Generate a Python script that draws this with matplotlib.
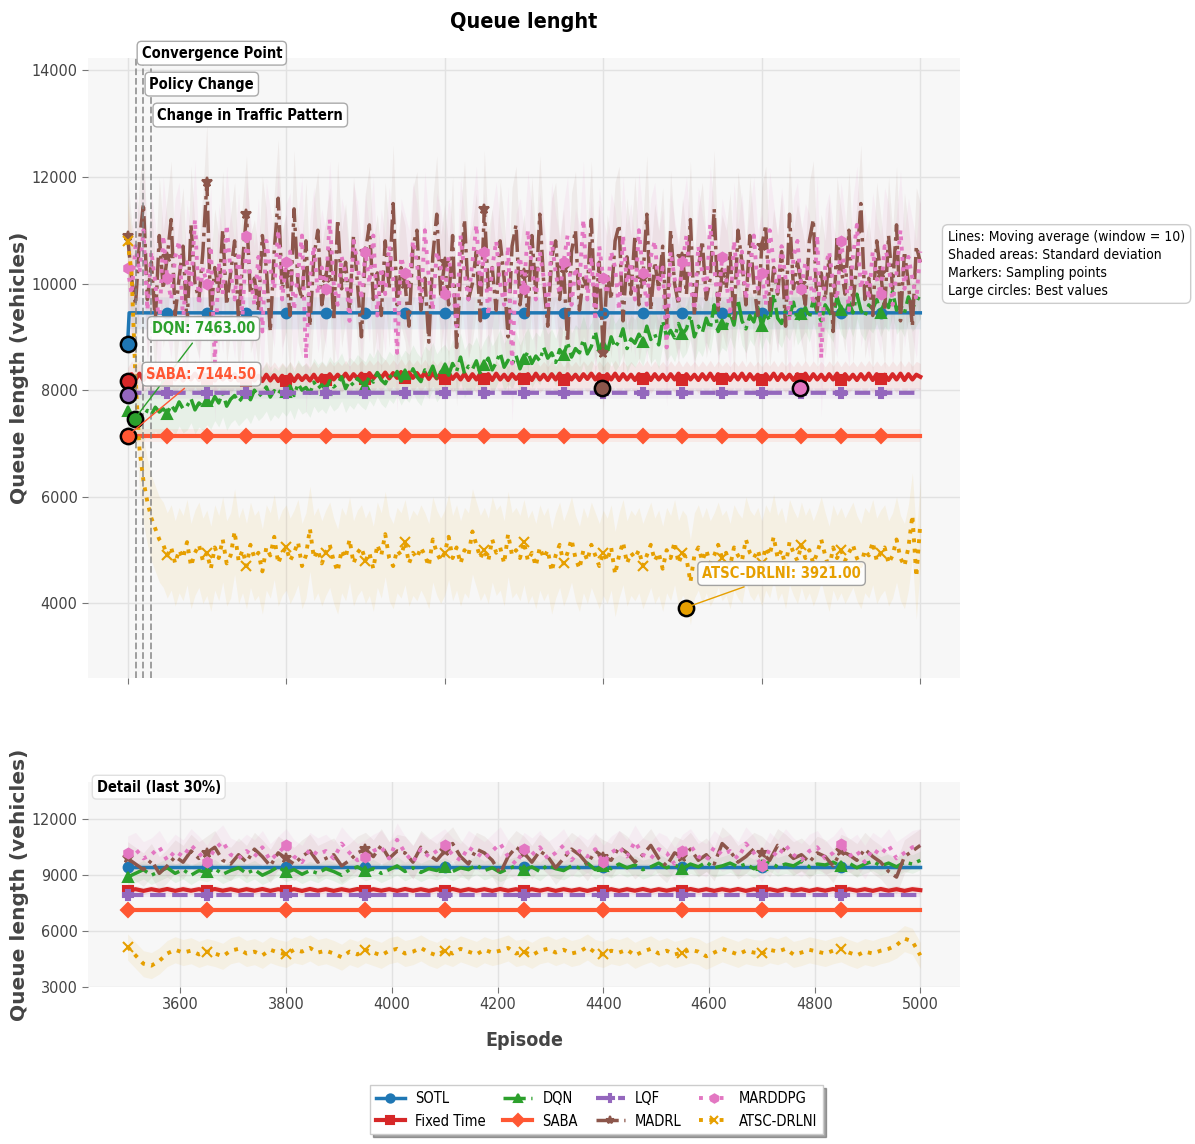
import numpy as np
import matplotlib
matplotlib.use("Agg")
import matplotlib.pyplot as plt

plt.rcParams['font.family'] = ['DejaVu Sans']
plt.rcParams['font.stretch'] = 'condensed'

######## data ########
names = ["SOTL", "Fixed Time", "DQN", "SABA", "LQF", "MADRL", "MARDDPG", "ATSC-DRLNI"]
colors = ["#1f77b4", "#d62728", "#2ca02c", "#ff5733", "#9467bd", "#8c564b", "#e377c2", "#e69f00"]
markers = ["o", "s", "^", "D", "P", "*", "h", "x"]
styles = ["-", "-", "-.", "-", "--", "-.", ":", ":"]

# episodes for the noisy series (every 25 episodes)
ep = np.arange(0, 5001, 25)
# episodes for the flat series
ep_flat = [0, 10] + list(range(250, 5001, 250))

sotl = [8870, 9450, 9450, 9450, 9450, 9450, 9450, 9450, 9450, 9450, 9450,
        9450, 9450, 9450, 9450, 9450, 9450, 9450, 9450, 9450, 9450, 9450]
saba = [7144.5, 7144.5, 7144.5, 7144.5, 7144.5, 7144.5, 7144.5, 7144.5, 7144.5, 7144.5, 7144.5,
        7144.5, 7144.5, 7144.5, 7144.5, 7144.5, 7144.5, 7144.5, 7144.5, 7144.5, 7144.5, 7144.5]
lqf = [7900, 7950, 7950, 7950, 7950, 7950, 7950, 7950, 7950, 7950, 7950,
       7950, 7950, 7950, 7950, 7950, 7950, 7950, 7950, 7950, 7950, 7950]

fixed_time = [
    8170, 8300, 8200, 8310, 8190, 8300, 8210, 8320, 8200, 8290,
    8190, 8310, 8200, 8300, 8180, 8290, 8200, 8310, 8190, 8300,
    8210, 8290, 8180, 8300, 8200, 8280, 8190, 8300, 8180, 8290,
    8170, 8280, 8180, 8270, 8170, 8290, 8180, 8280, 8170, 8270,
    8180, 8290, 8170, 8280, 8190, 8270, 8180, 8290, 8170, 8280,
    8190, 8300, 8200, 8290, 8210, 8310, 8200, 8300, 8220, 8310,
    8210, 8320, 8220, 8310, 8230, 8330, 8220, 8320, 8230, 8340,
    8220, 8330, 8230, 8320, 8220, 8330, 8210, 8320, 8220, 8310,
    8200, 8320, 8210, 8300, 8200, 8310, 8190, 8300, 8200, 8310,
    8200, 8300, 8190, 8310, 8200, 8290, 8190, 8300, 8210, 8290,
    8200, 8300, 8190, 8310, 8200, 8290, 8190, 8300, 8200, 8310,
    8190, 8300, 8200, 8290, 8190, 8300, 8210, 8310, 8200, 8300,
    8190, 8300, 8200, 8310, 8190, 8300, 8200, 8290, 8190, 8300,
    8200, 8310, 8190, 8300, 8200, 8290, 8190, 8300, 8200, 8310,
    8190, 8300, 8200, 8290, 8190, 8300, 8200, 8310, 8190, 8300,
    8200, 8290, 8190, 8300, 8200, 8310, 8190, 8300, 8200, 8290,
    8190, 8300, 8200, 8310, 8190, 8300, 8200, 8290, 8190, 8300,
    8200, 8310, 8190, 8300, 8200, 8290, 8190, 8300, 8200, 8310,
    8190, 8300, 8200, 8290, 8190, 8300, 8200, 8310, 8190, 8300,
    8200, 8290, 8190, 8300, 8200, 8310, 8190, 8300, 8200, 8290,
    8250]

dqn = [
    7600, 7470, 7463, 7550, 7500, 7620, 7540, 7680, 7590, 7650,
    7560, 7720, 7610, 7780, 7650, 7700, 7840, 7630, 7760, 7690,
    7800, 7720, 7880, 7760, 7950, 7700, 7830, 7900, 7780, 7860,
    7940, 7820, 8000, 7880, 7950, 8060, 7870, 7990, 7920, 8050,
    7960, 8080, 7900, 8120, 8000, 8050, 7940, 8150, 8030, 8100,
    8010, 8180, 8060, 8120, 8250, 8030, 8170, 8090, 8220, 8140,
    8080, 8260, 8150, 8330, 8190, 8120, 8280, 8200, 8350, 8170,
    8300, 8220, 8400, 8250, 8160, 8380, 8290, 8450, 8230, 8340,
    8410, 8280, 8500, 8350, 8620, 8310, 8450, 8390, 8550, 8300,
    8480, 8600, 8380, 8520, 8700, 8430, 8560, 8480, 8650, 8400,
    8580, 8720, 8500, 8640, 8550, 8800, 8600, 8700, 8520, 8760,
    8650, 8900, 8620, 8780, 8700, 8950, 8680, 8820, 9100, 8740,
    8850, 8700, 9000, 8800, 8920, 9150, 8780, 8960, 8880, 9050,
    8900, 9200, 8950, 9050, 8850, 9300, 9000, 9120, 8980, 9250,
    9050, 9150, 9400, 9000, 9200, 9080, 9350, 9150, 9600, 9100,
    9250, 9180, 9450, 9220, 9700, 9300, 9150, 9400, 9280, 9550,
    9200, 9450, 9300, 9800, 9350, 9250, 9500, 9380, 9650, 9300,
    9420, 9550, 9350, 9700, 9450, 9300, 9600, 9480, 9350, 9750,
    9500, 9400, 9650, 9450, 9800, 9500, 9380, 9600, 9520, 9700,
    9450, 9650, 9550, 9850, 9500, 9600, 9450, 9750, 9550, 9650,
    9800]

madrl = [
    10900, 10100, 9600, 10800, 11500, 9700, 10400, 9300, 10900, 9900,
    10500, 11200, 9400, 10100, 10700, 9200, 11100, 10000, 9700, 10600,
    11900, 9400, 10300, 9800, 11000, 9600, 10200, 10800, 9300, 10400,
    11300, 9800, 10100, 9500, 10900, 10300, 9100, 10600, 11600, 9900,
    10200, 9400, 11400, 10000, 9700, 10800, 9200, 10500, 11000, 9600,
    10100, 10700, 9300, 11200, 9900, 10400, 9500, 10900, 10000, 9000,
    10600, 11100, 9700, 10200, 9400, 10800, 9900, 11500, 9600, 10300,
    10000, 9200, 10700, 11000, 9500, 10100, 8900, 10500, 11300, 9800,
    10400, 9600, 10900, 8800, 10200, 11200, 9700, 10000, 10600, 9300,
    11400, 9900, 10300, 9500, 10800, 10100, 9000, 10700, 11100, 9600,
    10200, 9400, 10900, 9800, 11300, 10000, 9200, 10500, 10800, 9700,
    10300, 8900, 10600, 11000, 9500, 10100, 9900, 11200, 9400, 10400,
    8700, 10200, 9700, 10800, 11100, 9300, 10500, 9800, 10900, 9600,
    10100, 11300, 9500, 10400, 9900, 10700, 9200, 11000, 10000, 9600,
    10500, 9800, 11200, 9400, 10300, 10800, 9700, 10100, 11400, 9500,
    10200, 9900, 10600, 9300, 11000, 10400, 9600, 10900, 10000, 9400,
    10700, 11100, 9500, 10300, 9800, 10600, 9200, 11300, 9900, 10400,
    10000, 9600, 10800, 11200, 9500, 10200, 9700, 10500, 9100, 10900,
    10300, 9800, 11000, 9600, 10400, 11500, 9700, 10100, 9400, 10800,
    10200, 9500, 10900, 9900, 11100, 9300, 10600, 10000, 9200, 10700,
    10400]

marddpg = [
    10300, 9800, 10700, 10200, 11000, 9500, 10600, 10000, 9200, 10900,
    10100, 9700, 10500, 10800, 9300, 10400, 9900, 11200, 9600, 10300,
    10000, 10700, 8500, 10400, 9800, 11100, 10200, 9700, 10600, 9400,
    10900, 10100, 9600, 10500, 9100, 10800, 10300, 9900, 11000, 9700,
    10400, 10600, 9500, 10200, 10900, 8600, 10100, 10700, 9800, 10300,
    9900, 11200, 10000, 9600, 10500, 10200, 9300, 10800, 10400, 9700,
    10600, 10000, 10900, 9400, 10300, 9800, 10700, 10100, 8700, 10500,
    10200, 9900, 10800, 10400, 9600, 11000, 10100, 9500, 10600, 10300,
    9800, 10500, 10000, 9200, 10900, 10200, 9700, 10400, 11100, 9900,
    10600, 9400, 10300, 10800, 10000, 9600, 10700, 8500, 10200, 10500,
    9900, 11000, 10300, 9700, 10600, 10100, 9500, 10800, 10200, 9800,
    10400, 10900, 9600, 10300, 10000, 11200, 9700, 10500, 9300, 10700,
    10100, 9800, 10600, 10300, 9500, 10900, 10000, 10400, 9700, 11000,
    10200, 9600, 10500, 10800, 9900, 10300, 8800, 10600, 10100, 9700,
    10400, 10900, 10000, 9500, 10700, 10200, 9800, 11100, 10300, 9600,
    10500, 10100, 9400, 10800, 10000, 10600, 9700, 10300, 10900, 9900,
    10200, 9600, 11000, 10400, 9800, 10700, 10100, 9300, 10500, 10800,
    9900, 10400, 10200, 9600, 10900, 8600, 10300, 10600, 10000, 9700,
    10800, 10200, 9500, 10500, 11100, 9900, 10300, 9700, 10600, 10100,
    9800, 10700, 10400, 9600, 10200, 11000, 9900, 10500, 10100, 9700,
    10600]

atsc = [
    10800, 10200, 8200, 6900, 6300, 5900, 5600, 5400, 5200, 5100,
    4900, 5050, 4750, 5000, 4850, 5150, 4700, 4950, 5100, 4800,
    4950, 4650, 5050, 4850, 5200, 4750, 4900, 5350, 4800, 5000,
    4700, 5100, 4850, 4950, 4600, 5050, 4900, 5250, 4750, 4950,
    5050, 4800, 4950, 5150, 4700, 4900, 5400, 4850, 5000, 4750,
    4950, 5100, 4800, 4600, 5000, 4850, 5200, 4750, 4950, 5050,
    4800, 4950, 4650, 5100, 4900, 5300, 4850, 4700, 5000, 4900,
    5150, 4750, 4950, 4850, 5050, 4900, 4700, 5200, 4950, 4800,
    4950, 5250, 4850, 5050, 4750, 5000, 4900, 5350, 5100, 4850,
    5000, 4800, 5200, 4950, 5050, 4750, 5300, 4900, 5000, 4850,
    5150, 4800, 4950, 4700, 5050, 4850, 5000, 4600, 4900, 5100,
    4750, 4950, 5200, 4850, 4650, 5000, 4800, 5100, 4900, 4700,
    4950, 4800, 5050, 4550, 4900, 5150, 4750, 4950, 4850, 5000,
    4700, 4900, 5100, 4800, 4950, 4650, 5000, 4850, 5150, 4750,
    4950, 4850, 4400, 4900, 5050, 4800, 5000, 4750, 4900, 5100,
    4850, 4950, 4700, 5050, 4900, 4800, 5200, 4950, 4850, 5000,
    4750, 5050, 4900, 5250, 4850, 5000, 4700, 5150, 4950, 4800,
    5100, 4850, 5000, 4750, 4950, 5200, 4900, 4650, 5050, 4850,
    5000, 4800, 4950, 5100, 4850, 4700, 5000, 4900, 5150, 4800,
    4950, 5050, 4750, 4900, 5200, 4850, 4700, 5050, 5650, 4500,
    5500]

# spread (standard deviation) used for the shaded bands
spread_top = [300, 250, 450, 120, 100, 1100, 1100, 800]

# best values (large circles)
best_ep = [0, 0, 45, 0, 0, 2990, 4240, 3520]
best_q = [8870, 8170, 7463, 7144.5, 7900, 8040, 8040, 3921]

events_ep = [50, 100, 150]
events_label = ["Convergence Point", "Policy Change", "Change in Traffic Pattern"]

# detail: last 30% (every 15 episodes)
ep_d = np.arange(3500, 5001, 15)
ep_flat_d = list(range(3500, 5001, 150))
sotl_d = [9450, 9450, 9450, 9450, 9450, 9450, 9450, 9450, 9450, 9450, 9450]
saba_d = [7144.5, 7144.5, 7144.5, 7144.5, 7144.5, 7144.5, 7144.5, 7144.5, 7144.5, 7144.5, 7144.5]
lqf_d = [7950, 7950, 7950, 7950, 7950, 7950, 7950, 7950, 7950, 7950, 7950]

fixed_time_d = [
    8170, 8250, 8160, 8250, 8170, 8260, 8160, 8250, 8170, 8250,
    8160, 8260, 8170, 8250, 8160, 8250, 8170, 8260, 8160, 8250,
    8170, 8250, 8160, 8260, 8170, 8250, 8160, 8250, 8170, 8260,
    8160, 8250, 8170, 8250, 8160, 8260, 8170, 8250, 8160, 8250,
    8170, 8260, 8160, 8250, 8170, 8250, 8160, 8260, 8170, 8250,
    8160, 8250, 8170, 8260, 8160, 8250, 8170, 8250, 8160, 8260,
    8170, 8250, 8160, 8250, 8170, 8260, 8160, 8250, 8170, 8250,
    8160, 8260, 8170, 8250, 8160, 8250, 8170, 8260, 8160, 8250,
    8170, 8250, 8160, 8260, 8170, 8250, 8160, 8250, 8170, 8260,
    8160, 8250, 8170, 8250, 8160, 8260, 8170, 8250, 8160, 8250,
    8200]

dqn_d = [
    8900, 9100, 9300, 9000, 9200, 9400, 9100, 9300, 9000, 9250,
    9150, 9350, 9050, 9250, 9400, 9100, 9300, 9000, 9200, 9450,
    9150, 9300, 9050, 9250, 9100, 9350, 9200, 9000, 9300, 9450,
    9200, 9350, 9100, 9300, 9500, 9200, 9400, 9150, 9350, 9250,
    9450, 9200, 9400, 9300, 9550, 9250, 9400, 9150, 9350, 9500,
    9300, 9450, 9200, 9550, 9350, 9250, 9500, 9400, 9650, 9300,
    9500, 9350, 9600, 9400, 9550, 9300, 9450, 9650, 9400, 9550,
    9350, 9600, 9450, 9700, 9400, 9500, 9650, 9450, 9600, 9350,
    9550, 9700, 9450, 9600, 9500, 9750, 9450, 9600, 9550, 9700,
    9500, 9650, 9400, 9600, 9750, 9500, 9650, 9450, 9700, 9600,
    9800]

madrl_d = [
    9900, 9600, 9300, 9800, 9100, 9500, 10000, 9700, 10300, 9900,
    10200, 10500, 9800, 9600, 10100, 9700, 10400, 10000, 9500, 10200,
    9900, 9600, 10000, 10300, 9700, 9900, 10100, 9500, 9800, 10200,
    10400, 10000, 10600, 9900, 10300, 10200, 9700, 10500, 10100, 9800,
    10300, 10700, 10000, 9600, 10400, 10200, 9800, 9100, 10000, 10500,
    10200, 9700, 10300, 10000, 9400, 9900, 10400, 10100, 9600, 10300,
    10000, 9800, 10500, 10200, 9700, 10100, 10600, 9900, 9500, 10200,
    10000, 10400, 9800, 10100, 9600, 10700, 10300, 9700, 10000, 10400,
    10200, 9800, 10600, 10300, 9900, 10100, 9700, 10200, 10000, 9500,
    10300, 10100, 9800, 10400, 10000, 9700, 9200, 8900, 10000, 10300,
    10600]

marddpg_d = [
    10200, 10400, 9900, 10100, 10500, 9800, 10300, 10000, 10600, 10200,
    9700, 10400, 10800, 10100, 9900, 10300, 10000, 10500, 9800, 10200,
    10600, 10000, 9700, 10400, 10100, 10300, 9900, 10700, 10200, 9800,
    10000, 10300, 10500, 9900, 10900, 10200, 9700, 10400, 10000, 10300,
    10600, 10100, 9800, 10500, 10200, 9900, 10300, 10700, 10000, 9600,
    10400, 10100, 10500, 9900, 10200, 10600, 9800, 10300, 10000, 10400,
    9700, 10200, 10500, 10000, 10800, 10100, 9900, 10400, 10200, 9600,
    10300, 10600, 10000, 9800, 10500, 10100, 10300, 9900, 10700, 10200,
    9500, 10400, 10000, 10600, 10100, 9800, 10300, 10500, 9900, 10200,
    10700, 10000, 10300, 9700, 10400, 10100, 10600, 9900, 10200, 10500,
    10600]

atsc_d = [
    5150, 4700, 4250, 4150, 4400, 4800, 5000, 4850, 4950, 4750,
    4900, 4800, 4650, 4950, 5050, 4800, 4900, 4700, 5000, 4850,
    4750, 5000, 4900, 5100, 4850, 4950, 4800, 4600, 4900, 4750,
    5000, 4850, 4700, 4950, 5050, 4800, 4900, 5100, 4850, 4700,
    4950, 4800, 5050, 4900, 4750, 5000, 4850, 4950, 5100, 4800,
    4900, 4700, 4950, 5050, 4850, 5000, 4800, 4900, 5150, 4850,
    4750, 4950, 4850, 5000, 4700, 4900, 5050, 4800, 4950, 4750,
    4850, 5000, 4900, 4650, 4850, 5050, 4900, 4750, 4950, 4850,
    4800, 5000, 4900, 5050, 4750, 4850, 5000, 4900, 4800, 4950,
    5050, 4850, 4700, 4900, 4800, 4950, 5050, 5250, 5600, 5450,
    4700]

spread_d = [150, 200, 500, 100, 100, 900, 900, 700]

######## plotting ########
fig = plt.figure(figsize=(11.95, 11.44), dpi=100)
ax1 = fig.add_axes([0.0736, 0.4073, 0.7297, 0.5420])
ax2 = fig.add_axes([0.0736, 0.1372, 0.7297, 0.1792])

top_series = [(ep_flat, sotl), (ep, fixed_time), (ep, dqn), (ep_flat, saba),
              (ep_flat, lqf), (ep, madrl), (ep, marddpg), (ep, atsc)]
det_series = [(ep_flat_d, sotl_d), (ep_d, fixed_time_d), (ep_d, dqn_d), (ep_flat_d, saba_d),
              (ep_flat_d, lqf_d), (ep_d, madrl_d), (ep_d, marddpg_d), (ep_d, atsc_d)]

lw = [2.5, 3, 2.5, 3, 3, 2.5, 2.8, 2.8]

handles = []
for i, name in enumerate(names):
    x, y = top_series[i]
    y = np.array(y, dtype=float)
    if len(x) == len(ep_flat):
        mk = [0] + list(range(2, len(x) - 1))
    else:
        mk = slice(0, len(x) - 1, 10)
    ax1.fill_between(x, y - spread_top[i], y + spread_top[i], color=colors[i], alpha=0.08, lw=0)
    h, = ax1.plot(x, y, ls=styles[i], color=colors[i], lw=lw[i], marker=markers[i],
                  markevery=mk, ms=7, mew=1.5, label=name)
    handles.append(h)

    xd, yd = det_series[i]
    yd = np.array(yd, dtype=float)
    mkd = slice(0, len(xd) - 1, 1) if len(xd) == len(ep_flat_d) else slice(0, len(xd) - 1, 10)
    ax2.fill_between(xd, yd - spread_d[i], yd + spread_d[i], color=colors[i], alpha=0.08, lw=0)
    ax2.plot(xd, yd, ls=styles[i], color=colors[i], lw=lw[i], marker=markers[i],
             markevery=mkd, ms=7, mew=1.5)

# best values
for i in range(len(names)):
    ax1.plot(best_ep[i], best_q[i], 'o', ms=11, color=colors[i], mec='black', mew=1.8, zorder=10)

# annotations for the three best
ann = {"DQN": (479, 9156), "SABA": (466, 8300), "ATSC-DRLNI": (4125, 4560)}
for name, pos in ann.items():
    i = names.index(name)
    ax1.annotate(f"{name}: {best_q[i]:.2f}", xy=(best_ep[i], best_q[i]), xytext=pos,
                 ha='center', va='center', fontsize=10.5, fontweight='bold', color=colors[i],
                 bbox=dict(boxstyle='round,pad=0.3', fc='white', ec='#999999', alpha=0.9),
                 arrowprops=dict(arrowstyle='-', color=colors[i], lw=1), zorder=11)

# event lines
ev_y = [14320, 13740, 13160]
for k in range(len(events_ep)):
    ax1.axvline(events_ep[k], color='gray', ls='--', lw=1.3, alpha=0.8)
    ax1.text(events_ep[k] + 38, ev_y[k], events_label[k], ha='left', va='center',
             fontsize=10.5, fontweight='bold',
             bbox=dict(boxstyle='round,pad=0.3', fc='white', ec='#aaaaaa'), zorder=12)

for ax in (ax1, ax2):
    ax.set_facecolor('#f7f7f7')
    ax.grid(True, color='#e2e2e2', lw=1)
    ax.set_axisbelow(True)
    for s in ax.spines.values():
        s.set_visible(False)
    ax.tick_params(length=4, color='#777777', labelcolor='#444444', labelsize=11.5)
    ax.set_ylabel("Queue length (vehicles)", fontsize=14.5, fontweight='bold',
                  color='#444444', fontstretch='normal')
    ax.yaxis.set_label_coords(-0.068, 0.5)

ax1.set_xlim(-250, 5250)
ax1.set_ylim(2600, 14230)
ax1.set_xticks(range(0, 5001, 1000))
ax1.set_yticks(range(4000, 14001, 2000))
ax1.tick_params(labelbottom=False)

ax2.set_xlim(3425, 5075)
ax2.set_ylim(3000, 14000)
ax2.set_xticks(range(3600, 5001, 200))
ax2.set_yticks([3000, 6000, 9000, 12000])
ax2.set_xlabel("Episode", fontsize=14, fontweight='bold', color='#444444', labelpad=13)
ax2.text(0.01, 0.975, "Detail (last 30%)", transform=ax2.transAxes, ha='left', va='center',
         fontsize=10.5, fontweight='bold',
         bbox=dict(boxstyle='round,pad=0.3', fc='white', ec='#dddddd', alpha=0.9), zorder=12)

fig.text(0.4385, 0.981, "Queue lenght", ha='center', va='center', fontsize=15.5, fontweight='bold')

fig.text(948 / 1195, 1 - 264 / 1144,
         "Lines: Moving average (window = 10)\nShaded areas: Standard deviation\n"
         "Markers: Sampling points\nLarge circles: Best values",
         ha='left', va='center', fontsize=10, linespacing=1.35,
         bbox=dict(boxstyle='round,pad=0.4', fc='white', ec='#cccccc'))

fig.legend(handles, names, ncol=4, loc='lower center', bbox_to_anchor=(0.499, 0.002),
           fontsize=10.5, frameon=True, shadow=True, fancybox=False, edgecolor='#cccccc',
           columnspacing=1.2, handlelength=2.0, handletextpad=0.7, markerscale=0.85)

fig.savefig("out.png", dpi=100)
